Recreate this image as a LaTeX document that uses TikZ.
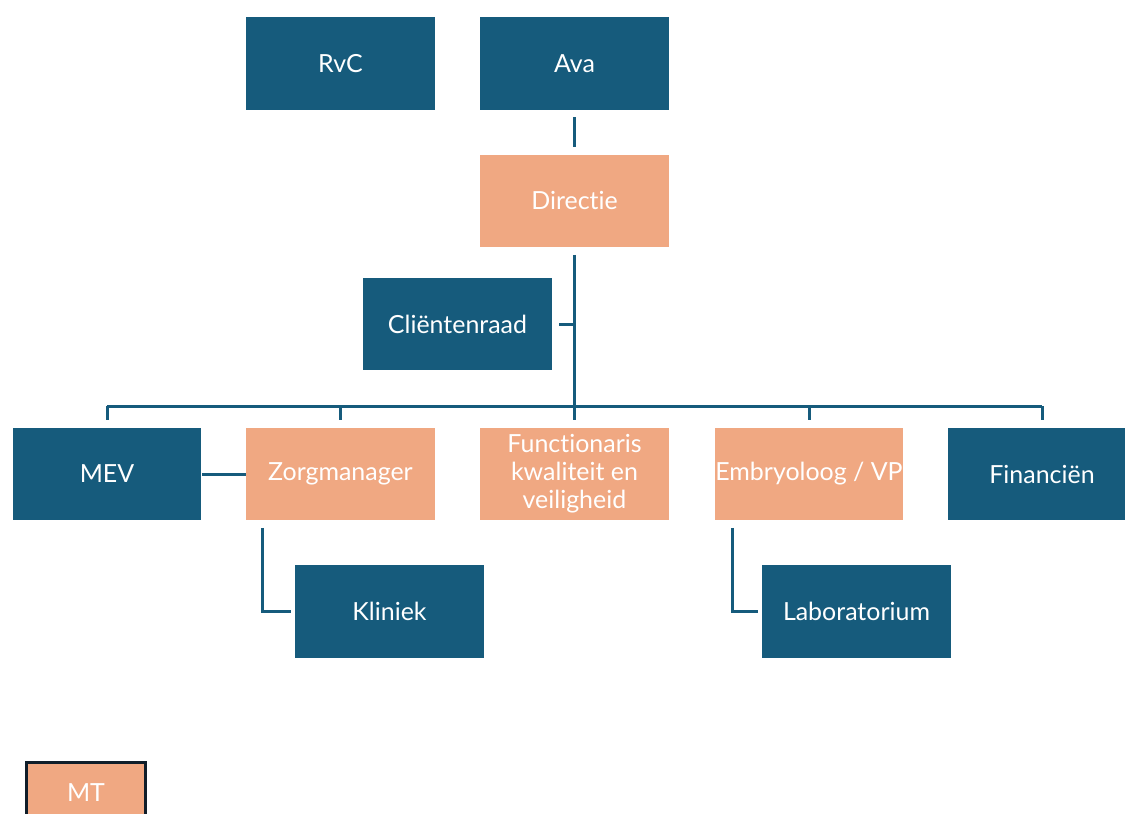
\documentclass[tikz,border=0pt]{standalone}
\usepackage{fontspec}
\setmainfont{Lato}[Ligatures={NoCommon,NoRare}]
\definecolor{orgblue}{RGB}{22, 91, 124}
\definecolor{orgorange}{RGB}{240, 168, 130}
\definecolor{mtframe}{RGB}{16, 30, 42}
\usetikzlibrary{positioning, calc}

\tikzset{
  box/.style={minimum width=3.78cm, minimum height=1.86cm, inner xsep=0pt, inner ysep=2pt,
    align=center, text=white, font=\fontsize{14.2}{16}\selectfont},
  bluebox/.style={box, fill=orgblue},
  orangebox/.style={box, fill=orgorange},
  legendbox/.style={box, fill=orgorange, draw=mtframe, line width=0.06cm,
    minimum width=2.38cm, minimum height=1.24cm},
  link/.style={draw=orgblue, line width=0.06cm, shorten <=0.14cm, shorten >=0.14cm}
}

\begin{document}
\begin{tikzpicture}[x=0.02cm, y=-0.02cm]
  \clip (0,0) rectangle (1125,814);
  \fill[white] (0,0) rectangle (1125,814);

  % top level
  \node[bluebox] (rvc) at (340.5, 63.5) {RvC};
  \node[bluebox] (ava) at (574.5, 63.5) {Ava};
  \node[orangebox] (directie) at (574.5, 201) {Directie};
  \node[bluebox] (clientenraad) at (457.5, 324) {Cliëntenraad};

  % second level
  \node[bluebox] (mev) at (107, 474) {MEV};
  \node[orangebox] (zorgmanager) at (340.5, 474) {Zorgmanager};
  \node[orangebox] (functionaris) at (574.5, 474) {Functionaris\\kwaliteit en\\veiligheid};
  \node[orangebox] (embryoloog) at (809, 474) {Embryoloog / VP};
  \node[bluebox] (financien) at (1042, 474) {Financiën};

  % third level
  \node[bluebox] (kliniek) at (389.5, 611.5) {Kliniek};
  \node[bluebox] (laboratorium) at (856.5, 611.5) {Laboratorium};

  % legend
  \node[legendbox] (mt) at (86, 793) {MT};

  % connectors
  \coordinate (bus) at (574.5, 406);
  \draw[link] (ava) -- (directie);
  \draw[link] (directie) -- (functionaris);
  \draw[link, shorten >=0pt] (clientenraad.east) -- (clientenraad.east -| directie.south);
  \draw[link, shorten <=0pt, shorten >=0pt] (mev.north |- bus) -- (financien.north |- bus);
  \foreach \n in {mev, zorgmanager, embryoloog, financien}
    \draw[link, shorten <=0pt] (\n.north |- bus) -- (\n.north);
  \draw[link, shorten <=0pt, shorten >=0pt] (mev) -- (zorgmanager);
  \draw[link, shorten >=0.08cm] ([xshift=0.34cm]zorgmanager.south west) |- (kliniek.west);
  \draw[link, shorten >=0.08cm] ([xshift=0.36cm]embryoloog.south west) |- (laboratorium.west);
\end{tikzpicture}
\end{document}
